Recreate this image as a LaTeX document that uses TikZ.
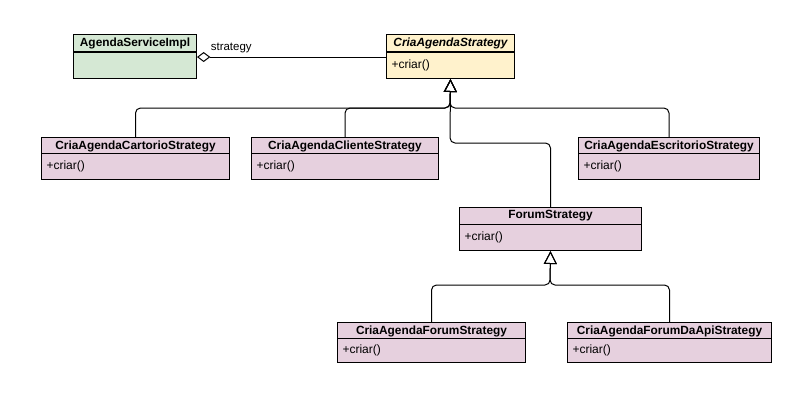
\documentclass[tikz,border=0pt]{standalone}
\usepackage{fontspec}
\setmainfont{Liberation Sans}
\usetikzlibrary{arrows.meta}

\definecolor{clsgreen}{HTML}{D5E8D4}
\definecolor{clsyellow}{HTML}{FFF2CC}
\definecolor{clspink}{HTML}{E6D0DE}

\begin{document}
\begin{tikzpicture}[x=0.75pt,y=-0.75pt,line width=0.75pt,
    box/.style={draw,inner sep=0pt,anchor=north west},
    hdr/.style={box,minimum height=12.75pt,font=\bfseries\fontsize{8.9}{10}\selectfont},
    bdy/.style={box,minimum height=19.5pt,
      label={[anchor=west,inner sep=3.75pt,font=\fontsize{9}{10}\selectfont]west:+criar()}},
    gen/.style={-{Triangle[open,length=9.75pt,width=9.75pt]},rounded corners=3.75pt},
    agg/.style={{Diamond[open,length=10pt,width=7.5pt]}-}]

    \useasboundingbox (0,0) rectangle (789,401);

    \node[hdr,fill=clsgreen,minimum width=92.25pt] (asiH) at (73,34) {AgendaServiceImpl};
    \node[box,fill=clsgreen,minimum width=92.25pt,minimum height=19.5pt] (asiB) at (73,52) {};

    \node[hdr,fill=clsyellow,minimum width=96pt,font=\bfseries\itshape\fontsize{8.9}{10}\selectfont] (casH) at (386,34) {CriaAgendaStrategy};
    \node[bdy,fill=clsyellow,minimum width=96pt] (casB) at (386,52) {};

    \node[hdr,fill=clspink,minimum width=141pt] (cartH) at (41,137) {CriaAgendaCartorioStrategy};
    \node[bdy,fill=clspink,minimum width=141pt] (cartB) at (41,153) {};

    \node[hdr,fill=clspink,minimum width=140.25pt] (cliH) at (251,137) {CriaAgendaClienteStrategy};
    \node[bdy,fill=clspink,minimum width=140.25pt] (cliB) at (251,153) {};

    \node[hdr,fill=clspink,minimum width=135.75pt] (escH) at (578,137) {CriaAgendaEscritorioStrategy};
    \node[bdy,fill=clspink,minimum width=135.75pt] (escB) at (578,153) {};

    \node[hdr,fill=clspink,minimum width=136.5pt] (forH) at (459,207) {ForumStrategy};
    \node[bdy,fill=clspink,minimum width=136.5pt] (forB) at (459,224) {};

    \node[hdr,fill=clspink,minimum width=141pt] (cafH) at (337,322) {CriaAgendaForumStrategy};
    \node[bdy,fill=clspink,minimum width=141pt,minimum height=18pt] (cafB) at (337,338) {};

    \node[hdr,fill=clspink,minimum width=153pt] (apiH) at (567,322) {CriaAgendaForumDaApiStrategy};
    \node[bdy,fill=clspink,minimum width=153pt,minimum height=18pt] (apiB) at (567,338) {};

    % junctions of the inheritance lines
    \coordinate (jTop) at (450,108);
    \coordinate (jFor) at (450,143);
    \coordinate (jLow) at (550,285);

    \draw[agg] ([yshift=-3.75pt]asiB.north east) -- ([yshift=-3.75pt]casB.north west)
      node[pos=0,anchor=south west,xshift=9pt,yshift=1.5pt,inner sep=1pt,font=\fontsize{8.6}{10}\selectfont] {strategy};

    \draw[gen] (cartH.north) |- (jTop) -- (casB.south);
    \draw[gen] (cliH.north) |- (jTop) -- (casB.south);
    \draw[gen] (escH.north) |- (jTop) -- (casB.south);
    \draw[gen] (forH.north) |- (jFor) -- (casB.south);

    \draw[gen] (cafH.north) |- (jLow) -- (forB.south);
    \draw[gen] (apiH.north) |- (jLow) -- (forB.south);
  \end{tikzpicture}
\end{document}
